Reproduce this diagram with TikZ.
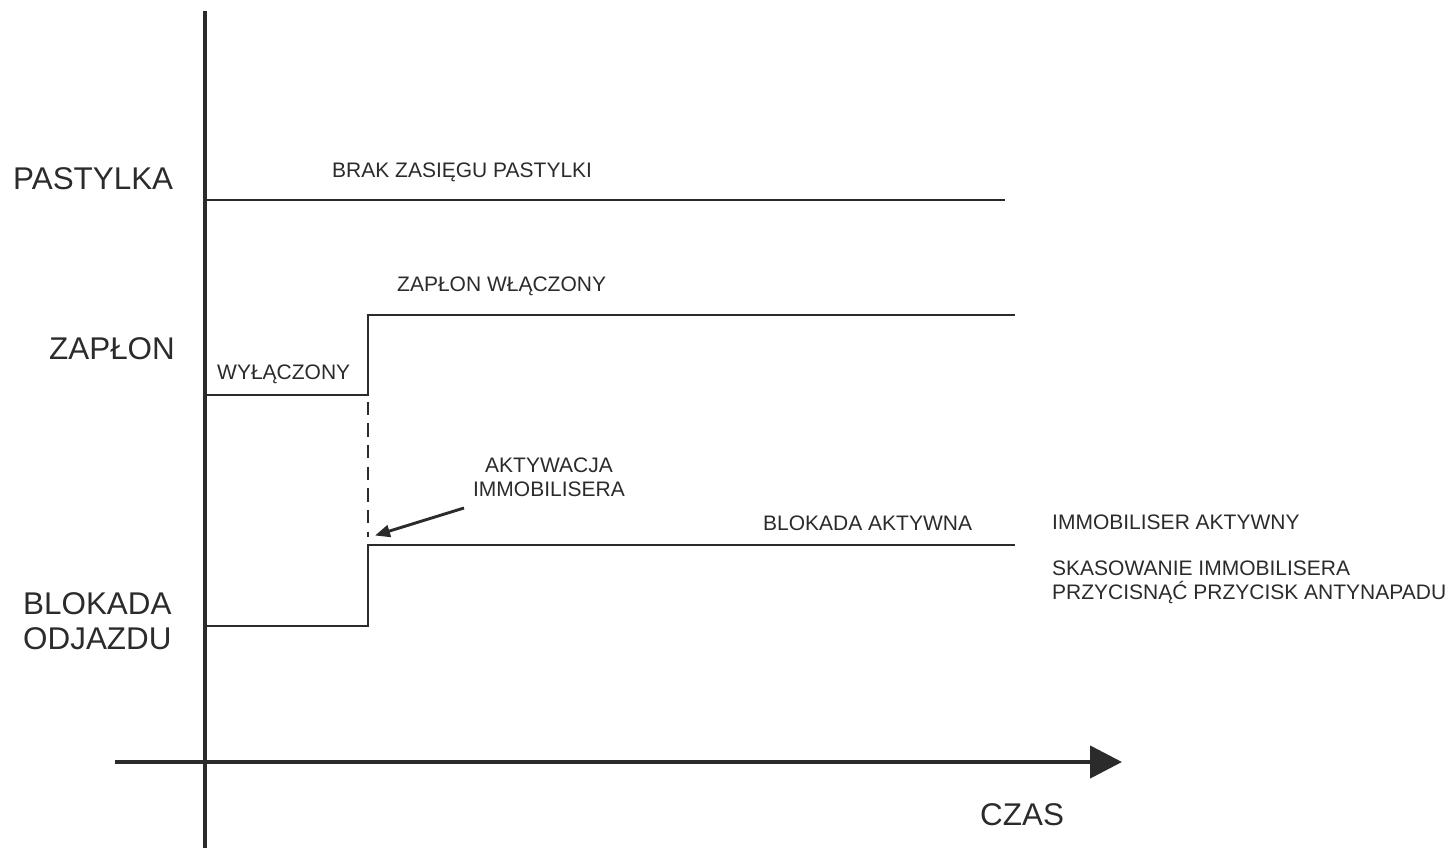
\documentclass[tikz,border=0pt]{standalone}
\usepackage{fontspec}
\setmainfont{Liberation Sans}
\usetikzlibrary{arrows.meta}
\definecolor{ink}{HTML}{2B2B2B}
\begin{document}
\begin{tikzpicture}[x=1pt,y=-1pt,
  axisline/.style={draw=ink,line width=4.8pt},
  wave/.style={draw=ink,line width=2.9pt,line join=miter},
  dashline/.style={draw=ink,line width=2.8pt,dash pattern=on 13.3pt off 8.4pt},
  big/.style={inner sep=0pt,anchor=base west,text=ink,font=\fontsize{31.4}{35}\selectfont},
  small/.style={inner sep=0pt,anchor=base west,text=ink,font=\fontsize{21}{24.5}\selectfont}]
\useasboundingbox (0,0) rectangle (1455,848);
% axes
\coordinate (ytop) at (205,11);
\coordinate (ybot) at (205,848);
\coordinate (xl) at (115,762);
\coordinate (xr) at (1122,762);
\draw[axisline] (ytop) -- (ybot);
\draw[axisline,line width=4.5pt,-{Triangle[length=32pt,width=32pt]}] (xl) -- (xr);
% pastylka
\coordinate (pa) at (207,200);
\coordinate (pb) at (1005,200);
\draw[wave] (pa) -- (pb);
% zaplon
\coordinate (za) at (207,395);
\coordinate (zb) at (368,395);
\coordinate (zc) at (368,315);
\coordinate (zd) at (1015,315);
\draw[wave] (za) -- (zb) -- (zc) -- (zd);
% blokada
\coordinate (ba) at (207,626);
\coordinate (bb) at (368,626);
\coordinate (bc) at (368,545);
\coordinate (bd) at (1015,545);
\draw[wave] (ba) -- (bb) -- (bc) -- (bd);
% dashed
\coordinate (da) at (368,401.5);
\coordinate (db) at (368,537);
\draw[dashline] (da) -- (db);
% arrow
\coordinate (aa) at (464,508);
\coordinate (ab) at (375,535.5);
\draw[draw=ink,line width=2.9pt,-{Triangle[length=15pt,width=12pt]}] (aa) -- (ab);
% labels
\node[big] (lpast) at (13,189.5) {PASTYLKA};
\node[big] (lzap) at (49,359.5) {ZAPŁON};
\node[big] (lblok) at (23,614) {BLOKADA};
\node[big] (lodj) at (23,649) {ODJAZDU};
\node[big] (lczas) at (980,825) {CZAS};
\node[small] (tbrak) at (332,177.5) {BRAK ZASIĘGU PASTYLKI};
\node[small] (tzw) at (397,291.5) {ZAPŁON WŁĄCZONY};
\node[small] (twyl) at (217,379.5) {WYŁĄCZONY};
\node[small,anchor=base] (takt) at (549,472) {AKTYWACJA};
\node[small,anchor=base] (timm) at (549,496) {IMMOBILISERA};
\node[small] (tblak) at (763,530) {BLOKADA AKTYWNA};
\node[small] (timak) at (1052,529) {IMMOBILISER AKTYWNY};
\node[small] (tskas) at (1052,575) {SKASOWANIE IMMOBILISERA};
\node[small] (tprz) at (1052,599) {PRZYCISNĄĆ PRZYCISK ANTYNAPADU};
\end{tikzpicture}
\end{document}
